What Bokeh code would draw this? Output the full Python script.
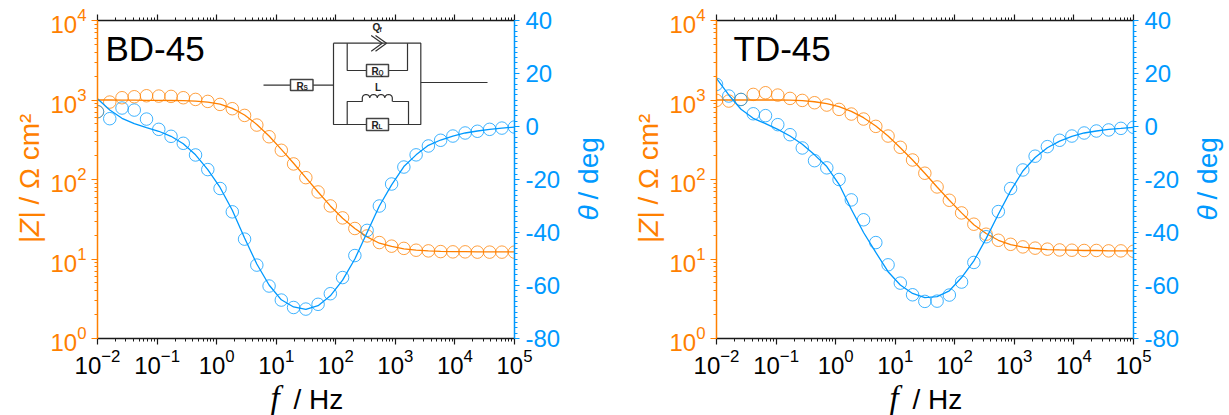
import numpy as np
from bokeh.plotting import figure
from bokeh.layouts import row, column
from bokeh.models import Range1d, LogAxis, LinearAxis, LinearScale, LogTicker, FixedTicker, Label
from bokeh.core.properties import value
from bokeh.embed import file_html
from bokeh.resources import INLINE

freq = [0.01, 0.01606, 0.02579, 0.04142, 0.0665, 0.1068, 0.1715, 0.2754, 0.4423, 0.7103,
        1.141, 1.832, 2.942, 4.724, 7.586, 12.18, 19.56, 31.42, 50.45, 81.0,
        130.1, 208.9, 335.5, 538.7, 865.2, 1389, 2231, 3583, 5754, 9240,
        14840, 23830, 38260, 61450, 100000]

bd_z_meas = [712, 942, 1068, 1099, 1131, 1120, 1110, 1068, 1017, 960, 880, 777, 640, 484, 345, 233, 157, 105.5,
             69.7, 46.5, 32.9, 24.2, 19.5, 16.1, 14.5, 13.6, 12.9, 12.65, 12.4, 12.3, 12.3, 12.2, 12.2, 12.2, 12.2]
bd_z_fit = [1000, 1000, 995, 995, 990, 990, 985, 980, 970, 942, 889, 784, 647, 493, 352, 239.5, 160, 105.5,
            69.7, 46.5, 32.5, 24.2, 19, 15.8, 14.4, 13.4, 12.9, 12.65, 12.5, 12.4, 12.4, 12.3, 12.3, 12.3, 12.3]
bd_t_meas = [5.6, 2.95, 6.97, 6.2, 2.8, -1.07, -3.7, -6.34, -10.74, -16.26, -23.4, -32.2, -42.5, -52.3, -60.2, -65.5, -68.3, -68.9,
             -67.1, -63.1, -57, -48.7, -39.2, -30, -21.7, -15.3, -10.7, -7.35, -5.2, -3.6, -2.45, -1.8, -1.07, -0.6, -0.2]
bd_t_fit = [10.5, 6.2, 3.1, 1.1, -0.4, -1.8, -3.7, -6.5, -10.7, -16.3, -23, -31.6, -42.1, -51.9, -59.8, -65.4, -68.1, -69,
            -67.6, -63.9, -58, -50, -40, -30, -22, -15.1, -10.7, -7.1, -5.1, -3.6, -2.45, -1.7, -1.07, -0.6, -0.2]

td_z_meas = [988, 970, 1017, 1176, 1234, 1153, 1047, 988, 924, 864, 762, 666, 576, 466, 352, 254, 176, 120,
             80.6, 54.8, 38, 27.4, 20.5, 17.2, 15.3, 14.2, 13.7, 13.3, 13, 12.9, 12.8, 12.8, 12.65, 12.65, 12.5]
td_z_fit = [1000, 1000, 1000, 1000, 1000, 1000, 998, 980, 951, 898, 823, 719, 599, 471, 352, 251, 176, 120,
            80.6, 54.8, 38, 26.9, 20.9, 17.2, 15.2, 14.1, 13.55, 13.15, 13, 12.9, 12.8, 12.8, 12.65, 12.65, 12.65]
td_t_meas = [15.9, 11.5, 10.2, 4.8, 4.1, 0.7, -3.1, -8.1, -12.9, -15.6, -20, -27.7, -35.2, -43.8, -52.2, -59.1, -63.5, -66,
             -65.9, -63.6, -58.7, -51.3, -41.6, -32.1, -23.4, -16.4, -11.2, -7.6, -5.2, -3.6, -2.45, -1.7, -1.3, -0.7, -0.3]
td_t_fit = [18.15, 11.9, 6.5, 3.1, 1.1, -1.07, -3.6, -6.7, -10.7, -15.1, -21.8, -31.2, -40, -47.5, -54.8, -59.8, -63, -64.6,
            -64.2, -62, -57, -50.7, -42.3, -33.1, -24.3, -16.8, -11.7, -8, -5.5, -3.7, -2.45, -1.7, -1.07, -0.7, -0.3]

theta_ticks = [-80, -60, -40, -20, 0, 20, 40]
theta_minor = list(range(-80, 41, 2))

ORANGE = "#FF8000"
BLUE = "#0099FF"
DARK = "#1a1a1a"
SANS = "Liberation Sans"
SERIF = "Liberation Serif"


def panel(title, title_dx, zm, zf, tm, tf, width, bl, br, show_circuit):
    p = figure(width=width, height=415, x_axis_type="log", y_axis_type="log",
               x_range=Range1d(1e-2, 1e5), y_range=Range1d(1, 1e4),
               toolbar_location=None, output_backend="svg",
               min_border_left=bl, min_border_right=br, min_border_top=20, min_border_bottom=77,
               outline_line_color=None, background_fill_color="white", border_fill_color="white")
    p.extra_y_ranges = {"theta": Range1d(-80, 40)}
    p.extra_y_scales = {"theta": LinearScale()}
    p.grid.visible = False

    xt = LogTicker(mantissas=[1], desired_num_ticks=8, num_minor_ticks=10)
    yt = LogTicker(mantissas=[1], desired_num_ticks=5, num_minor_ticks=10)
    bx = p.below[0]
    bx.ticker = xt
    ly = p.left[0]
    ly.ticker = yt
    for ax, c, sz in ((bx, DARK, "24px"), (ly, ORANGE, "24px")):
        ax.axis_line_color = c
        ax.major_tick_line_color = c
        ax.minor_tick_line_color = c
        ax.axis_line_width = 1.5
        ax.major_tick_line_width = 1.2
        ax.minor_tick_line_width = 1
        ax.major_tick_in = 0
        ax.major_tick_out = 6
        ax.minor_tick_in = 0
        ax.minor_tick_out = 3
        ax.major_label_text_color = "#000000" if c == DARK else ORANGE
        ax.major_label_text_font = SANS
        ax.major_label_text_font_size = sz
    bx.major_label_standoff = 4
    ly.major_label_standoff = 5

    top = LogAxis(ticker=LogTicker(mantissas=[1], desired_num_ticks=8, num_minor_ticks=10),
                  axis_line_color=DARK, major_tick_line_color=DARK, minor_tick_line_color=DARK,
                  axis_line_width=1.5, major_tick_line_width=1.2, minor_tick_line_width=1,
                  major_tick_in=0, major_tick_out=6, minor_tick_in=0, minor_tick_out=3,
                  major_label_text_color=None, major_label_text_font_size="1px", major_label_standoff=0)
    p.add_layout(top, "above")

    ry = LinearAxis(y_range_name="theta", ticker=FixedTicker(ticks=theta_ticks, minor_ticks=theta_minor),
                    axis_line_color=BLUE, major_tick_line_color=BLUE, minor_tick_line_color=BLUE,
                    axis_line_width=1.5, major_tick_line_width=1.2, minor_tick_line_width=1,
                    major_tick_in=0, major_tick_out=5, minor_tick_in=0, minor_tick_out=3,
                    major_label_text_color=BLUE, major_label_text_font=SANS,
                    major_label_text_font_size="24px", major_label_standoff=6,
                    major_label_overrides={t: str(t) for t in theta_ticks})
    p.add_layout(ry, "right")

    p.scatter(freq, zm, marker="circle", size=12.5, fill_color=None, line_color=ORANGE, line_width=1, line_alpha=0.75)
    p.line(freq, zf, line_color=ORANGE, line_width=1.3)
    p.scatter(freq, tm, marker="circle", size=12.5, fill_color=None, line_color=BLUE, line_width=1, line_alpha=0.75,
              y_range_name="theta")
    p.line(freq, tf, line_color=BLUE, line_width=1.3, y_range_name="theta")

    p.add_layout(Label(x=title_dx, y=289.7, x_units="screen", y_units="screen", text=title,
                       text_font=SANS, text_font_size="35px", text_color="#000000",
                       text_baseline="alphabetic"))
    if show_circuit:
        circuit(p)
    return p


def circuit(p):
    # diagram placed in pixel terms of the first panel's frame
    X0, Y0 = 97.0, 20.0
    px = lambda v: 10 ** (-2 + (np.asarray(v, float) - X0) / 59.57)
    py = lambda v: 10 ** (4 - (np.asarray(v, float) - Y0) / 79.5)
    c = "#333333"
    segs = [
        ([263, 333], [84.7, 84.7]),
        ([333, 420.3, 420.3, 333, 333], [42.7, 42.7, 124, 124, 42.7]),
        ([420.3, 487], [82, 82]),
        ([346.7, 346.7, 407, 407], [42.7, 70, 70, 42.7]),
        ([346.7, 346.7, 362], [124, 101, 101]),
        ([392, 408, 408], [101, 101, 124]),
        ([370.7, 381.7, 370.7], [35, 42.7, 50.7]),
        ([375, 386, 375], [35, 42.7, 50.7]),
    ]
    xs, ys = [], []
    for a, b in segs:
        xs.append(px(a).tolist())
        ys.append(py(b).tolist())
    cx, cy = [], []
    for k in range(4):
        t = np.linspace(np.pi, 0, 14)
        cx += (361.8 + 3.75 + 7.5 * k + 3.75 * np.cos(t)).tolist()
        cy += (97.5 - 3.5 * np.sin(t)).tolist()
    cx = [361.8] + cx + [391.8]
    cy = [101] + cy + [101]
    xs.append(px(cx).tolist())
    ys.append(py(cy).tolist())
    p.multi_line(xs, ys, line_color=c, line_width=1.2)
    for (l, r, t, b) in [(290, 312.5, 79, 90), (366, 388, 64, 76), (366, 388, 118, 130)]:
        p.quad(left=[float(px(l))], right=[float(px(r))], top=[float(py(t))], bottom=[float(py(b))],
               fill_color="white", line_color="#444444", line_width=1.5)
    for (tx, ty, s, sub) in [(296, 85.5, "R", "S"), (371, 70.5, "R", "Q"), (371, 124.5, "R", "L"),
                             (372, 27, "Q", "f"), (374.5, 87, "L", "")]:
        p.text([float(px(tx))], [float(py(ty))], text=[s], text_font=value(SANS), text_font_size="10px",
               text_font_style="bold", text_color="#222222", text_baseline="alphabetic", text_align="left")
        if sub:
            p.text([float(px(tx + 7))], [float(py(ty + 1.5))], text=[sub], text_font=value(SANS),
                   text_font_size="6.5px", text_font_style="bold", text_color="#222222",
                   text_baseline="alphabetic", text_align="left")


p1 = panel("BD-45", 8, bd_z_meas, bd_z_fit, bd_t_meas, bd_t_fit, 610, 97, 96, True)
p2 = panel("TD-45", 17, td_z_meas, td_z_fit, td_t_meas, td_t_fit, 619, 106, 96, False)

# transparent sheet over both panels: the mixed-style axis titles sit on it
ov = figure(width=1229, height=415, x_range=Range1d(0, 1229), y_range=Range1d(415, 0),
            x_axis_type=None, y_axis_type=None, toolbar_location=None, output_backend="svg",
            min_border=0, outline_line_color=None, background_fill_color=None, border_fill_color=None,
            margin=(-415, 0, 0, 0))
ov.grid.visible = False


def put(x, y, text, size, color, font=SANS, style="normal", angle=0.0):
    # a Label's "alphabetic" anchor sits about 0.28 em under the true baseline
    shift = 0.28 * size
    if angle:
        x -= shift
    else:
        y -= shift
    ov.add_layout(Label(x=x, y=y, text=text, text_font=font, text_font_style=style,
                        text_font_size=f"{size}px", text_color=color, angle=angle,
                        text_baseline="alphabetic", text_align="left"))


for dx in (0, 619):
    put(270 + dx, 406.7, "f", 33, "#000000", font=SERIF, style="italic")
    put(293 + dx, 406.7, "/ Hz", 28, "#000000")
    put(37 + dx, 243, "|Z|", 28, ORANGE, style="italic", angle=np.pi / 2)
    put(37 + dx, 204, "/ Ω cm²", 28, ORANGE, angle=np.pi / 2)
    put(596 + dx, 220, "θ", 28, BLUE, style="italic", angle=np.pi / 2)
    put(596 + dx, 199, "/ deg", 28, BLUE, angle=np.pi / 2)

layout = column(row(p1, p2), ov)

open("out.html", "w").write(file_html(layout, INLINE))
